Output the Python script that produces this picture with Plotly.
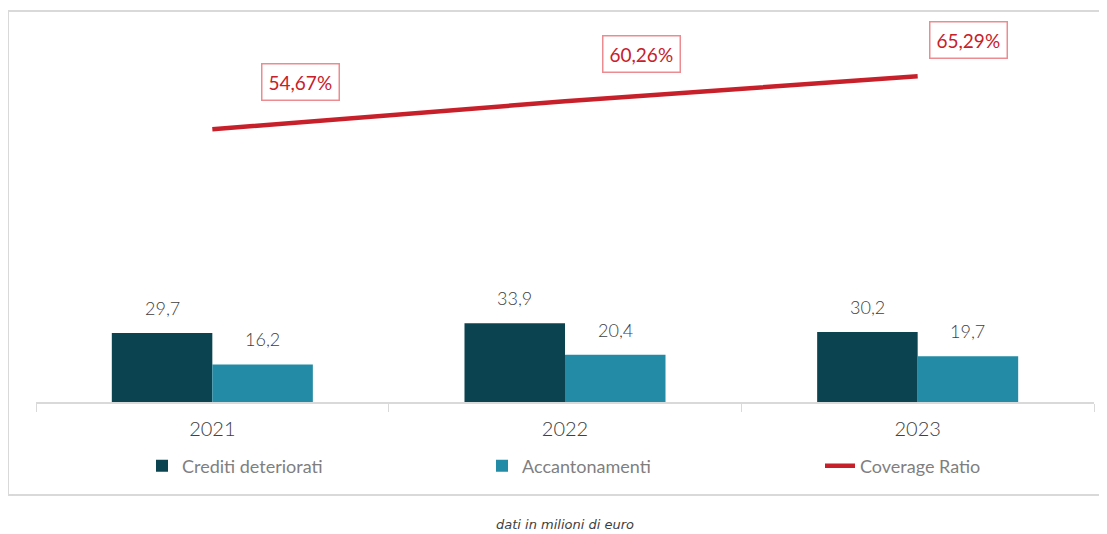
import plotly.graph_objects as go

years = ["2021", "2022", "2023"]
crediti = [29.7, 33.9, 30.2]
accantonamenti = [16.2, 20.4, 19.7]
coverage = [54.67, 60.26, 65.29]
coverage_labels = ["54,67%", "60,26%", "65,29%"]

DARK = "#0B4350"
LIGHT = "#238BA5"
RED = "#C8202A"
GRID = "#D9D9D9"
TXT = "#404040"

# figure is placed at (8, 8) in the page
OFF = 8
W, H = 1099, 526
L, R, T, B = 28, 13, 12, 132
pw, ph = W - L - R, H - T - B


def px(xp):  # page x -> paper
    return (xp - OFF - L) / pw


def py(yp):  # page y -> paper
    return (H - B - (yp - OFF)) / ph


BARGAP = 0.43
bw = (1 - BARGAP) / 2

fig = go.Figure()
fig.add_trace(go.Bar(
    x=years, y=crediti, name="Crediti deteriorati", marker_color=DARK,
    legend="legend",
))
fig.add_trace(go.Bar(
    x=years, y=accantonamenti, name="Accantonamenti", marker_color=LIGHT,
    legend="legend2",
))
fig.add_trace(go.Scatter(
    x=years, y=coverage, name="Coverage Ratio", mode="lines",
    line=dict(color=RED, width=4.5), yaxis="y2", legend="legend3",
))

# bar value labels
for series, off in ((crediti, -bw / 2), (accantonamenti, bw / 2)):
    for i, v in enumerate(series):
        fig.add_annotation(
            x=i + off, y=v, xref="x", yref="y", text=f"{v:.1f}".replace(".", ","),
            showarrow=False, yanchor="bottom", yshift=12,
            font=dict(family="Lato", size=18, color=TXT, weight=300),
        )

shifts = [(88, 47), (76, 47), (51, 36)]
for i, (v, lab, (dx, dy)) in enumerate(zip(coverage, coverage_labels, shifts)):
    fig.add_annotation(
        x=i, y=v, xref="x", yref="y2", text=lab, showarrow=False,
        xshift=dx, yshift=dy,
        font=dict(family="Lato", size=19, color=RED),
        bordercolor="#EC8C90", borderwidth=1.5, borderpad=6, bgcolor="white",
    )

# outer frame
fig.add_shape(type="rect", xref="paper", yref="paper",
              x0=px(8), x1=px(1104), y0=py(495), y1=py(11),
              line=dict(color=GRID, width=2), layer="below")

fig.add_annotation(
    xref="paper", yref="paper", x=px(565), y=py(524),
    xanchor="center", yanchor="middle",
    text="<i>dati in milioni di euro</i>", showarrow=False,
    font=dict(family="DejaVu Sans", size=13, color=TXT),
)

legfont = dict(family="Lato", size=18, color="#7F7F7F")


def leg(xpage):
    return dict(orientation="h", x=px(xpage), xanchor="left",
                y=py(466), yanchor="middle", font=legfont,
                bgcolor="rgba(0,0,0,0)")


fig.update_layout(
    template="none",
    width=W, height=H,
    margin=dict(l=L, r=R, t=T, b=B),
    paper_bgcolor="white", plot_bgcolor="white",
    separators=",.",
    barmode="group", bargap=BARGAP, bargroupgap=0,
    showlegend=True,
    legend=leg(142),
    legend2=leg(482),
    legend3=leg(820),
    xaxis=dict(
        type="category", range=[-0.5, 2.5], autorange=False,
        showline=True, linecolor=GRID, linewidth=1.5,
        ticks="outside", tickson="boundaries", ticklen=8, tickcolor=GRID,
        showgrid=False, zeroline=False, automargin=False, tickangle=0,
        ticklabelstandoff=8,
        tickfont=dict(family="Lato", size=20, color=TXT, weight=300),
    ),
    yaxis=dict(range=[0, ph / 2.32], visible=False, showgrid=False,
               zeroline=False, automargin=False),
    yaxis2=dict(range=[0, ph / 4.99], overlaying="y", side="right",
                visible=False, showgrid=False, zeroline=False, automargin=False),
)

fig.write_html("out.html")
